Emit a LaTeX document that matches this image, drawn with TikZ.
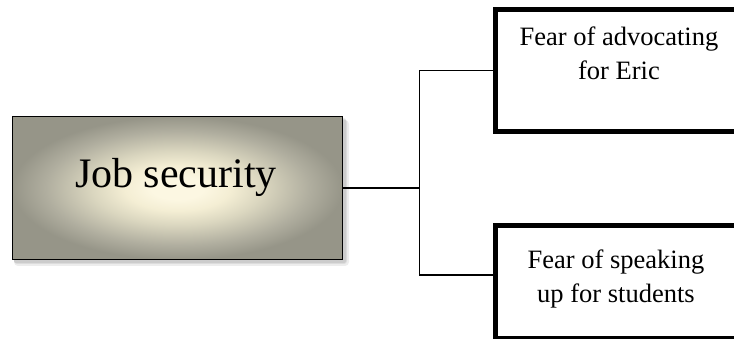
\documentclass[tikz,border=0pt]{standalone}
\usepackage{fontspec}
\setmainfont{Liberation Serif}
\usetikzlibrary{calc}
\definecolor{jobin}{HTML}{FCF7E2}
\definecolor{jobone}{HTML}{F4EED4}
\definecolor{jobtwo}{HTML}{DAD6BF}
\definecolor{jobthree}{HTML}{B0AE9F}
\definecolor{jobout}{HTML}{969588}
\pgfdeclareradialshading{jobshade}{\pgfpoint{0bp}{0bp}}{color(0bp)=(jobin); color(4bp)=(jobin); color(8bp)=(jobone); color(13bp)=(jobtwo); color(20bp)=(jobthree); color(25bp)=(jobout); color(50bp)=(jobout)}
\tikzset{
  jobbox/.style={draw=black, line width=1.5pt, shading=jobshade, minimum width=330pt, minimum height=143pt, inner sep=0pt},
  fearbox/.style={draw=black, line width=5pt, minimum width=247.5pt, inner sep=0pt},
  bigtext/.style={font=\fontsize{42}{48}\selectfont, inner sep=0pt},
  smalltext/.style={font=\fontsize{26.5}{34}\selectfont, align=center, inner sep=0pt},
  conn/.style={draw=black, line width=1.3pt},
  shadowlayer/.style={fill=black, opacity=0.07, draw=none}
}
\begin{document}
\begin{tikzpicture}[x=1pt, y=-1pt]
\useasboundingbox (0,0) rectangle (734,339);
% soft shadow of the main box
\fill[shadowlayer, rounded corners=4pt] (14,120) rectangle (349,266);
\fill[shadowlayer, rounded corners=3pt] (14,119) rectangle (347,264);
\fill[shadowlayer, rounded corners=2pt] (14,118) rectangle (346,263);
\node[jobbox] (job) at (177.5,188) {};
\node[bigtext, anchor=base] (jobtxt) at (176,188) {Job security};
% right boxes
\node[fearbox, minimum height=122.5pt] (topbox) at (619.25,70.75) {};
\node[fearbox, minimum height=112.5pt] (botbox) at (619.25,281.75) {};
\node[smalltext, anchor=north] (toptxt) at (619,27) {Fear of advocating\\for Eric};
\node[smalltext, anchor=north] (bottxt) at (616,250) {Fear of speaking\\up for students};
% connectors
\coordinate (jt) at (419.5,188);
\draw[conn] (job.east) -- (jt);
\draw[conn] (topbox.west) -| (jt) |- ([yshift=6.75pt]botbox.west);
\end{tikzpicture}
\end{document}
